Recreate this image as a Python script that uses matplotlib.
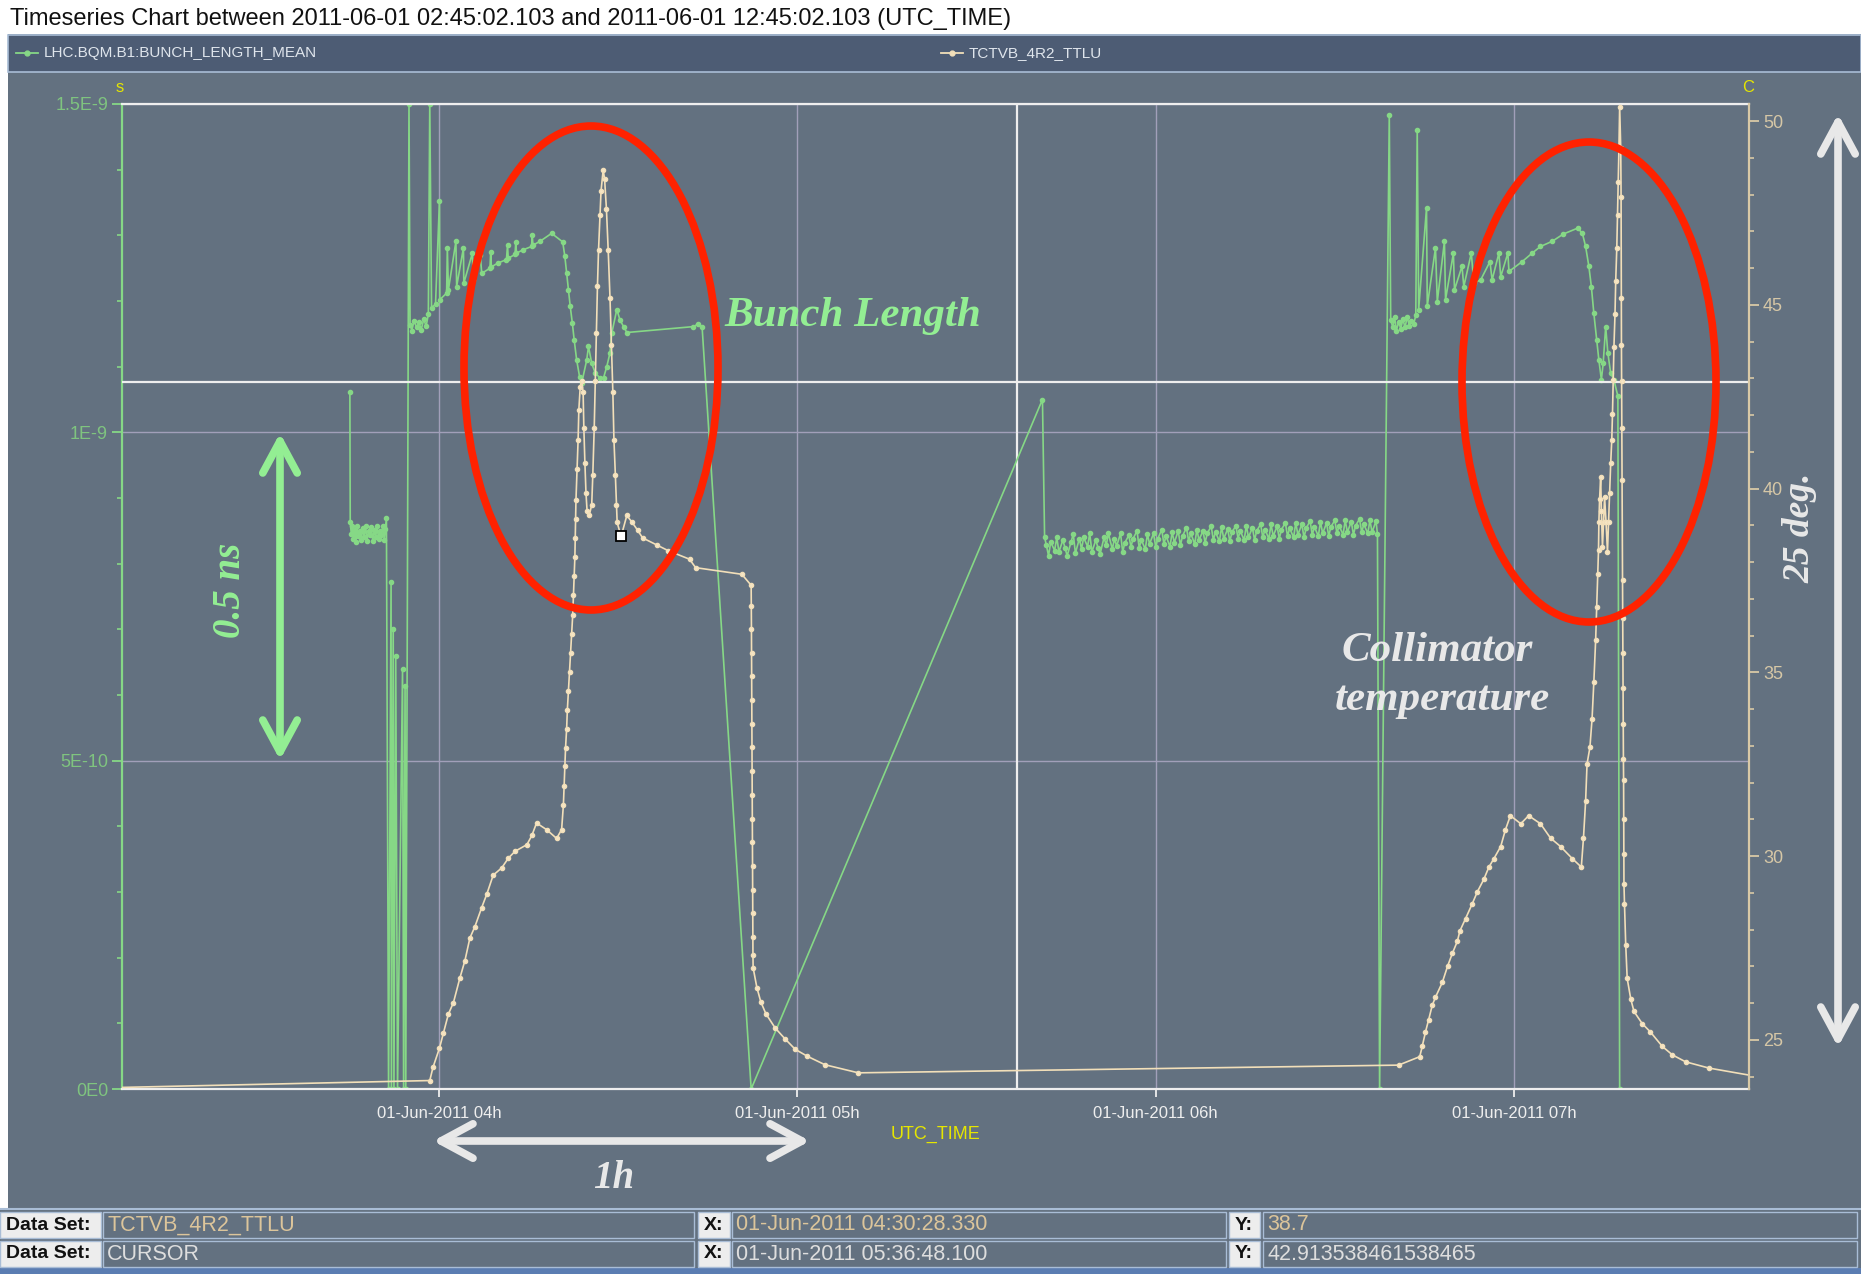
import matplotlib
matplotlib.use("Agg")
import matplotlib.pyplot as plt
from matplotlib import font_manager
from matplotlib.patches import Rectangle, Ellipse, FancyArrowPatch
from matplotlib.lines import Line2D
from matplotlib.ticker import FixedLocator, MultipleLocator

# ------------------------------------------------------------------ data
TITLE = ("Timeseries Chart between 2011-06-01 02:45:02.103 and "
         "2011-06-01 12:45:02.103 (UTC_TIME)")
series_names = ["LHC.BQM.B1:BUNCH_LENGTH_MEAN", "TCTVB_4R2_TTLU"]

hour_ticks = [4, 5, 6, 7]
hour_labels = ["01-Jun-2011 04h", "01-Jun-2011 05h",
               "01-Jun-2011 06h", "01-Jun-2011 07h"]
time_window = (3.115, 7.656)          # hours of 01-Jun-2011 (UTC)

left_ticks = [0.0, 5e-10, 1e-9, 1.5e-9]
left_labels = ["0E0", "5E-10", "1E-9", "1.5E-9"]
right_ticks = [25, 30, 35, 40, 45, 50]
right_range = (23.66, 50.47)

# bunch length readings: (hour, ns)
bunch_length = [
    (3.751, 1.062), (3.752, 0.863),
    (3.755, 0.845), (3.758, 0.857), (3.761, 0.838), (3.764, 0.852), (3.768, 0.833),
    (3.771, 0.858), (3.775, 0.842), (3.779, 0.850), (3.783, 0.836), (3.787, 0.855),
    (3.791, 0.840), (3.795, 0.858), (3.799, 0.835), (3.803, 0.849), (3.807, 0.843),
    (3.811, 0.856), (3.815, 0.834), (3.819, 0.852), (3.823, 0.840), (3.827, 0.857),
    (3.831, 0.837), (3.835, 0.850), (3.839, 0.844), (3.843, 0.858), (3.847, 0.836),
    (3.850, 0.853), (3.853, 0.870),
    (3.859, 0.0), (3.866, 0.772), (3.867, 0.0), (3.872, 0.701), (3.874, 0.0),
    (3.879, 0.659), (3.884, 0.0), (3.898, 0.640), (3.901, 0.0), (3.905, 0.614),
    (3.907, 0.0), (3.916, 1.500), (3.919, 1.164),
    (3.924, 1.155), (3.930, 1.170), (3.937, 1.160), (3.944, 1.168), (3.950, 1.156),
    (3.957, 1.172), (3.964, 1.162), (3.970, 1.180), (3.974, 1.500), (3.979, 1.190),
    (3.990, 1.195), (4.001, 1.352), (4.002, 1.202), (4.021, 1.212), (4.023, 1.281),
    (4.026, 1.217), (4.047, 1.291), (4.049, 1.222), (4.068, 1.281), (4.069, 1.227),
    (4.093, 1.273), (4.095, 1.232), (4.115, 1.270), (4.119, 1.242), (4.142, 1.250),
    (4.144, 1.275), (4.146, 1.252), (4.165, 1.258), (4.188, 1.263), (4.191, 1.285),
    (4.193, 1.265), (4.212, 1.271), (4.214, 1.290), (4.216, 1.273), (4.235, 1.278),
    (4.258, 1.283), (4.260, 1.300), (4.262, 1.285), (4.282, 1.291), (4.314, 1.303),
    (4.345, 1.290), (4.351, 1.268), (4.356, 1.243), (4.361, 1.217), (4.366, 1.192),
    (4.372, 1.166), (4.377, 1.141), (4.384, 1.110), (4.392, 1.085), (4.398, 1.075),
    (4.412, 1.110), (4.417, 1.131), (4.426, 1.105), (4.436, 1.090), (4.449, 1.083),
    (4.459, 1.083), (4.468, 1.100), (4.477, 1.121), (4.482, 1.151), (4.496, 1.187),
    (4.505, 1.171), (4.515, 1.161), (4.524, 1.152), (4.710, 1.161), (4.723, 1.165),
    (4.734, 1.161), (4.871, 0.0), (5.684, 1.050),
    (5.690, 0.840), (5.695, 0.828), (5.701, 0.812), (5.707, 0.833), (5.718, 0.820),
    (5.724, 0.840), (5.730, 0.818), (5.741, 0.836), (5.747, 0.824), (5.753, 0.812),
    (5.764, 0.833), (5.770, 0.845), (5.776, 0.816), (5.787, 0.838), (5.793, 0.822),
    (5.799, 0.840), (5.810, 0.826), (5.816, 0.846), (5.822, 0.818), (5.833, 0.836),
    (5.839, 0.824), (5.845, 0.815), (5.856, 0.840), (5.862, 0.828), (5.868, 0.846),
    (5.879, 0.822), (5.885, 0.838), (5.891, 0.827), (5.902, 0.846), (5.908, 0.818),
    (5.914, 0.832), (5.925, 0.843), (5.931, 0.826), (5.937, 0.838), (5.948, 0.850),
    (5.954, 0.824), (5.960, 0.836), (5.971, 0.822), (5.977, 0.845), (5.983, 0.830),
    (5.994, 0.846), (6.000, 0.826), (6.006, 0.838), (6.017, 0.852), (6.023, 0.830),
    (6.029, 0.842), (6.040, 0.826), (6.046, 0.848), (6.052, 0.832), (6.063, 0.850),
    (6.069, 0.828), (6.075, 0.842), (6.086, 0.855), (6.092, 0.834), (6.098, 0.846),
    (6.109, 0.830), (6.115, 0.852), (6.121, 0.836), (6.132, 0.850), (6.138, 0.832),
    (6.144, 0.846), (6.155, 0.857), (6.161, 0.836), (6.167, 0.848), (6.178, 0.834),
    (6.184, 0.856), (6.190, 0.838), (6.201, 0.853), (6.207, 0.834), (6.213, 0.848),
    (6.224, 0.858), (6.230, 0.838), (6.236, 0.850), (6.247, 0.836), (6.253, 0.858),
    (6.259, 0.840), (6.270, 0.855), (6.276, 0.836), (6.282, 0.850), (6.293, 0.860),
    (6.299, 0.840), (6.305, 0.852), (6.316, 0.838), (6.322, 0.860), (6.328, 0.842),
    (6.339, 0.857), (6.345, 0.838), (6.351, 0.852), (6.362, 0.862), (6.368, 0.842),
    (6.374, 0.854), (6.385, 0.840), (6.391, 0.862), (6.397, 0.844), (6.408, 0.860),
    (6.414, 0.840), (6.420, 0.854), (6.431, 0.865), (6.437, 0.844), (6.443, 0.856),
    (6.454, 0.842), (6.460, 0.864), (6.466, 0.846), (6.477, 0.862), (6.483, 0.842),
    (6.489, 0.856), (6.500, 0.866), (6.506, 0.846), (6.512, 0.858), (6.523, 0.844),
    (6.529, 0.866), (6.535, 0.848), (6.546, 0.864), (6.552, 0.844), (6.558, 0.858),
    (6.569, 0.868), (6.575, 0.848), (6.581, 0.860), (6.592, 0.846), (6.598, 0.866),
    (6.604, 0.848), (6.615, 0.865), (6.619, 0.845),
    (6.625, 0.0), (6.652, 1.483), (6.656, 1.171),
    (6.662, 1.160), (6.667, 1.175), (6.672, 1.155), (6.678, 1.168), (6.684, 1.158),
    (6.690, 1.172), (6.696, 1.160), (6.702, 1.176), (6.708, 1.162), (6.714, 1.170),
    (6.720, 1.165), (6.726, 1.178), (6.730, 1.460), (6.734, 1.187),
    (6.756, 1.342), (6.758, 1.192), (6.781, 1.281), (6.786, 1.199), (6.806, 1.291),
    (6.809, 1.202), (6.831, 1.273), (6.834, 1.217), (6.855, 1.253), (6.860, 1.222),
    (6.881, 1.273), (6.888, 1.227), (6.907, 1.232), (6.933, 1.260), (6.939, 1.232),
    (6.958, 1.273), (6.963, 1.237), (6.983, 1.273), (6.986, 1.245), (7.023, 1.260),
    (7.051, 1.273), (7.074, 1.283), (7.107, 1.291), (7.138, 1.302), (7.178, 1.311),
    (7.191, 1.303), (7.200, 1.283), (7.209, 1.253), (7.216, 1.222), (7.223, 1.181),
    (7.231, 1.141), (7.237, 1.110), (7.244, 1.080), (7.249, 1.105), (7.256, 1.161),
    (7.262, 1.121), (7.270, 1.090), (7.279, 1.080), (7.290, 1.055), (7.295, 0.0),
]

# collimator temperature readings: (hour, deg C)
collimator_temp = [
    (3.100, 23.70), (3.974, 23.89), (3.983, 24.25), (4.001, 24.77), (4.012, 25.18),
    (4.026, 25.70), (4.040, 26.01), (4.058, 26.68), (4.072, 27.15), (4.086, 27.77),
    (4.100, 28.08), (4.119, 28.60), (4.133, 28.96), (4.151, 29.48), (4.175, 29.68),
    (4.193, 29.94), (4.212, 30.13), (4.245, 30.31), (4.259, 30.56), (4.272, 30.90),
    (4.300, 30.72), (4.328, 30.48), (4.342, 30.72), (4.347, 31.40), (4.349, 31.90),
    (4.351, 32.44), (4.353, 32.95), (4.356, 33.47), (4.358, 33.98), (4.361, 34.50),
    (4.364, 35.02), (4.367, 35.53), (4.370, 36.05), (4.373, 36.57), (4.375, 37.10),
    (4.377, 37.62), (4.379, 38.14), (4.380, 38.66), (4.381, 39.17), (4.382, 39.68),
    (4.385, 40.53), (4.388, 41.33), (4.390, 42.14), (4.394, 42.78), (4.398, 42.94),
    (4.402, 42.62), (4.404, 41.66), (4.407, 40.69), (4.410, 39.88), (4.413, 39.40),
    (4.419, 39.27), (4.426, 39.56), (4.429, 40.37), (4.433, 41.66), (4.436, 42.94),
    (4.439, 44.23), (4.442, 45.52), (4.445, 46.49), (4.449, 47.45), (4.452, 48.10),
    (4.458, 48.68), (4.462, 48.42), (4.467, 47.62), (4.472, 46.49), (4.477, 45.20),
    (4.481, 43.91), (4.485, 42.62), (4.488, 41.33), (4.492, 40.37), (4.495, 39.56),
    (4.497, 39.08), (4.508, 38.70), (4.524, 39.27), (4.539, 39.08), (4.554, 38.87),
    (4.568, 38.66), (4.607, 38.47), (4.640, 38.31), (4.699, 38.08), (4.716, 37.85),
    (4.845, 37.67), (4.871, 37.37),
    (4.8715, 36.82), (4.8718, 36.18), (4.8721, 35.53), (4.8724, 34.89), (4.8727, 34.25),
    (4.8730, 33.60), (4.8733, 32.96), (4.8736, 32.31), (4.8739, 31.67), (4.8742, 31.02),
    (4.8745, 30.38), (4.8748, 29.73), (4.8751, 29.09), (4.8754, 28.45), (4.8757, 27.80),
    (4.8760, 27.32), (4.8765, 26.96),
    (4.887, 26.42), (4.898, 26.03), (4.912, 25.71), (4.938, 25.32), (4.965, 25.03),
    (4.994, 24.74), (5.028, 24.55), (5.077, 24.32), (5.170, 24.10),
    (6.678, 24.31), (6.737, 24.54), (6.744, 24.82), (6.753, 25.21), (6.762, 25.55),
    (6.772, 25.94), (6.781, 26.16), (6.800, 26.56), (6.815, 27.01), (6.828, 27.35),
    (6.842, 27.68), (6.849, 27.96), (6.865, 28.30), (6.883, 28.69), (6.898, 29.03),
    (6.916, 29.37), (6.930, 29.70), (6.944, 29.93), (6.963, 30.26), (6.976, 30.71),
    (6.990, 31.10), (7.019, 30.88), (7.041, 31.10), (7.074, 30.88), (7.102, 30.49),
    (7.130, 30.26), (7.163, 29.93), (7.188, 29.70), (7.194, 30.49), (7.200, 31.50),
    (7.204, 32.51), (7.212, 32.96), (7.218, 33.74), (7.223, 34.75), (7.228, 35.88),
    (7.231, 36.77), (7.234, 37.67), (7.236, 38.34), (7.237, 39.08), (7.239, 39.72),
    (7.242, 40.32), (7.244, 39.40), (7.247, 38.41), (7.250, 39.08), (7.253, 39.77),
    (7.257, 39.08), (7.261, 38.28), (7.264, 39.08), (7.267, 39.88), (7.270, 40.69),
    (7.273, 41.33), (7.275, 42.04), (7.277, 42.95), (7.279, 43.85), (7.282, 44.75),
    (7.284, 45.65), (7.287, 46.55), (7.289, 47.46), (7.291, 48.36), (7.293, 49.27),
    (7.295, 50.40), (7.298, 49.27), (7.2990, 47.94), (7.2995, 45.20), (7.3000, 43.91),
    (7.3005, 42.94), (7.3010, 41.66), (7.3020, 40.23), (7.3030, 37.51), (7.3035, 36.48),
    (7.3040, 35.53), (7.3045, 34.57), (7.3050, 33.60), (7.3055, 32.64), (7.3060, 32.06),
    (7.3063, 31.02), (7.3066, 30.06), (7.3070, 29.25), (7.3085, 28.69), (7.312, 27.57),
    (7.316, 26.67), (7.326, 26.11), (7.335, 25.77), (7.358, 25.44), (7.381, 25.21),
    (7.414, 24.82), (7.442, 24.59), (7.479, 24.40), (7.544, 24.23), (7.661, 24.03),
]

cursor_hour = 5 + 36 / 60 + 48.1 / 3600
cursor_value = 42.913538461538465
picked_hour = 4 + 30 / 60 + 28.330 / 3600
picked_value = 38.7

info_rows = [
    ("TCTVB_4R2_TTLU", "01-Jun-2011 04:30:28.330", "38.7"),
    ("CURSOR", "01-Jun-2011 05:36:48.100", "42.913538461538465"),
]

# ------------------------------------------------------------------ style
BG = "#637180"
BAND = "#4d5c74"
EDGE = "#a9bdd6"
GREEN = "#86d886"
BEIGE = "#f2dfb9"
GRID = "#a19fb9"
WHITE = "#eeeeee"
YELLOW = "#e6e600"
RED = "#ff2200"
NOTE_GREEN = "#93ee93"
NOTE_WHITE = "#e8e8e8"

names = {f.name for f in font_manager.fontManager.ttflist}
if "Liberation Sans Narrow" in names:
    UI = "Liberation Sans Narrow"
elif "Liberation Sans" in names:
    UI = "Liberation Sans"
else:
    UI = "DejaVu Sans"
SERIF = "Liberation Serif" if "Liberation Serif" in names else "DejaVu Serif"
plt.rcParams["font.family"] = [UI, "DejaVu Sans"]

W, H = 1861, 1274
fig = plt.figure(figsize=(W / 100, H / 100), dpi=100)
fig.patch.set_facecolor(BG)


def fx(x):
    return x / W


def fy(y):
    return 1 - y / H


def box(x0, y0, x1, y1, fc, ec="none", lw=0, z=0):
    fig.add_artist(Rectangle((fx(x0), fy(y1)), fx(x1 - x0), (y1 - y0) / H,
                             transform=fig.transFigure, facecolor=fc,
                             edgecolor=ec, linewidth=lw, zorder=z))


# window chrome: title bar, legend band, side strip
box(0, 0, W, 34, "white")
box(0, 34, 8, 1208, "white")
box(8, 35, W, 72, BAND, EDGE, 1.2)
fig.text(fx(10), fy(19), TITLE, fontsize=17, color="#111111",
         ha="left", va="center")

# legend entries
for (x0, label, col) in [(16, series_names[0], GREEN), (941, series_names[1], BEIGE)]:
    fig.add_artist(Line2D([fx(x0), fx(x0 + 22)], [fy(53), fy(53)], color=col,
                          lw=1.3, transform=fig.transFigure))
    fig.add_artist(Line2D([fx(x0 + 11)], [fy(53)], color=col, marker="o", ms=3.5,
                          transform=fig.transFigure))
    fig.text(fx(x0 + 28), fy(53), label, fontsize=11, color="#dfe5ec",
             ha="left", va="center")

# ------------------------------------------------------------------ axes
L, R, T, B = 122, 1749, 104, 1089
ax = fig.add_axes([fx(L), fy(B), (R - L) / W, (B - T) / H])
ax.set_facecolor(BG)
ax.set_xlim(*time_window)
ax.set_ylim(0, 1.5e-9)
ax.set_axisbelow(True)

for side in ("top", "bottom"):
    ax.spines[side].set_color(WHITE)
    ax.spines[side].set_linewidth(1.6)
ax.spines["left"].set_color(GREEN)
ax.spines["left"].set_linewidth(1.6)
ax.spines["right"].set_visible(False)

ax.yaxis.set_major_locator(FixedLocator(left_ticks))
ax.set_yticklabels(left_labels)
ax.yaxis.set_minor_locator(MultipleLocator(1e-10))
ax.tick_params(axis="y", which="major", length=7, width=1.3, color=GREEN,
               labelcolor="#7fc47f", labelsize=13, pad=3)
ax.tick_params(axis="y", which="minor", length=3.6, width=1.2, color=GREEN)

ax.set_xticks(hour_ticks)
ax.set_xticklabels(hour_labels)
ax.tick_params(axis="x", which="major", length=6, width=1.3, color=WHITE,
               labelcolor=WHITE, labelsize=12, pad=6)
ax.grid(True, which="major", color=GRID, lw=1.0)

ax.axvline(cursor_hour, color=WHITE, lw=1.6, zorder=1.5)

bl_t = [p[0] for p in bunch_length]
bl_v = [p[1] * 1e-9 for p in bunch_length]
ax.plot(bl_t, bl_v, color=GREEN, lw=1.2, marker="o", ms=3.0,
        mfc=GREEN, mec=GREEN, zorder=2)

ax2 = ax.twinx()
ax2.set_ylim(*right_range)
for side in ("top", "bottom", "left"):
    ax2.spines[side].set_visible(False)
ax2.spines["right"].set_color("#d9c9a6")
ax2.spines["right"].set_linewidth(1.6)
ax2.yaxis.set_major_locator(FixedLocator(right_ticks))
ax2.yaxis.set_minor_locator(MultipleLocator(1))
ax2.tick_params(axis="y", which="major", length=7, width=1.3, color="#d9c9a6",
                labelcolor="#d6c7a6", labelsize=13, pad=3)
ax2.tick_params(axis="y", which="minor", length=3.6, width=1.2, color="#d9c9a6")

ax2.axhline(cursor_value, color=WHITE, lw=1.6, zorder=1)
ct_t = [p[0] for p in collimator_temp]
ct_v = [p[1] for p in collimator_temp]
ax2.plot(ct_t, ct_v, color=BEIGE, lw=1.2, marker="o", ms=3.0,
         mfc="#f6e6c6", mec=BEIGE, zorder=2)
ax2.plot([picked_hour], [picked_value], marker="s", ms=7, mfc="white",
         mec="black", mew=1.3, zorder=5, clip_on=False)

# unit labels
fig.text(fx(120), fy(88), "s", color=YELLOW, fontsize=12, ha="center", va="center")
fig.text(fx(1748), fy(88), "C", color=YELLOW, fontsize=12, ha="center", va="center")
fig.text(fx(936), fy(1134), "UTC_TIME", color=YELLOW, fontsize=13,
         ha="center", va="center")

# ------------------------------------------------------------------ notes
note = dict(fontfamily=SERIF, fontweight="bold", fontstyle="italic")
fig.text(fx(724), fy(316), "Bunch Length", color=NOTE_GREEN, fontsize=31,
         ha="left", va="center", **note)
fig.text(fx(1437), fy(651), "Collimator", color=NOTE_WHITE, fontsize=31,
         ha="center", va="center", **note)
fig.text(fx(1442), fy(700), "temperature", color=NOTE_WHITE, fontsize=31,
         ha="center", va="center", **note)
fig.text(fx(231), fy(590), "0.5 ns", color=NOTE_GREEN, fontsize=28,
         rotation=90, ha="center", va="center", **note)
fig.text(fx(1800), fy(528), "25 deg.", color=NOTE_WHITE, fontsize=27,
         rotation=90, ha="center", va="center", **note)
fig.text(fx(614), fy(1178), "1h", color=NOTE_WHITE, fontsize=28,
         ha="center", va="center", **note)

for (cx, cy, w, h) in [(591, 368, 254, 484), (1589, 382, 254, 480)]:
    fig.add_artist(Ellipse((fx(cx), fy(cy)), w / W, h / H,
                           transform=fig.transFigure, fill=False,
                           edgecolor=RED, lw=5.5, zorder=10))


def double_arrow(p0, p1, col):
    fig.add_artist(FancyArrowPatch(
        (fx(p0[0]), fy(p0[1])), (fx(p1[0]), fy(p1[1])),
        transform=fig.transFigure,
        arrowstyle="<->,head_length=1.15,head_width=0.62",
        mutation_scale=20, color=col, lw=5.5, shrinkA=0, shrinkB=0,
        capstyle="round", joinstyle="round", zorder=10))


double_arrow((280, 433), (280, 760), NOTE_GREEN)
double_arrow((1838, 114), (1838, 1047), NOTE_WHITE)
double_arrow((433, 1141), (810, 1141), NOTE_WHITE)

# ------------------------------------------------------------------ info panel
fig.add_artist(Line2D([0, 1], [fy(1209), fy(1209)], color=EDGE, lw=1.5,
                      transform=fig.transFigure))
box(0, 1268, W, H, "#5b7db2")
rows_y = [(1212, 1238), (1241, 1267)]
text_cols = ["#dcc59b", "#dedede"]
cells = [(0, 101, 103, 694, "Data Set:"), (698, 730, 732, 1226, "X:"),
         (1229, 1260, 1263, 1857, "Y:")]
for (y0, y1), row, tc in zip(rows_y, info_rows, text_cols):
    yc = (y0 + y1) / 2
    for (lx0, lx1, vx0, vx1, lab), val in zip(cells, row):
        box(lx0, y0, lx1, y1, "#ededed", EDGE, 1.0, z=1)
        box(vx0, y0, vx1, y1, BG, EDGE, 1.0, z=1)
        fig.text(fx(lx0 + 6), fy(yc), lab, color="#111111", fontsize=14,
                 fontweight="bold", ha="left", va="center", zorder=2)
        fig.text(fx(vx0 + 4), fy(yc), val, color=tc, fontsize=15.5,
                 ha="left", va="center", zorder=2)

fig.savefig("out.png", dpi=100, facecolor=fig.get_facecolor())
